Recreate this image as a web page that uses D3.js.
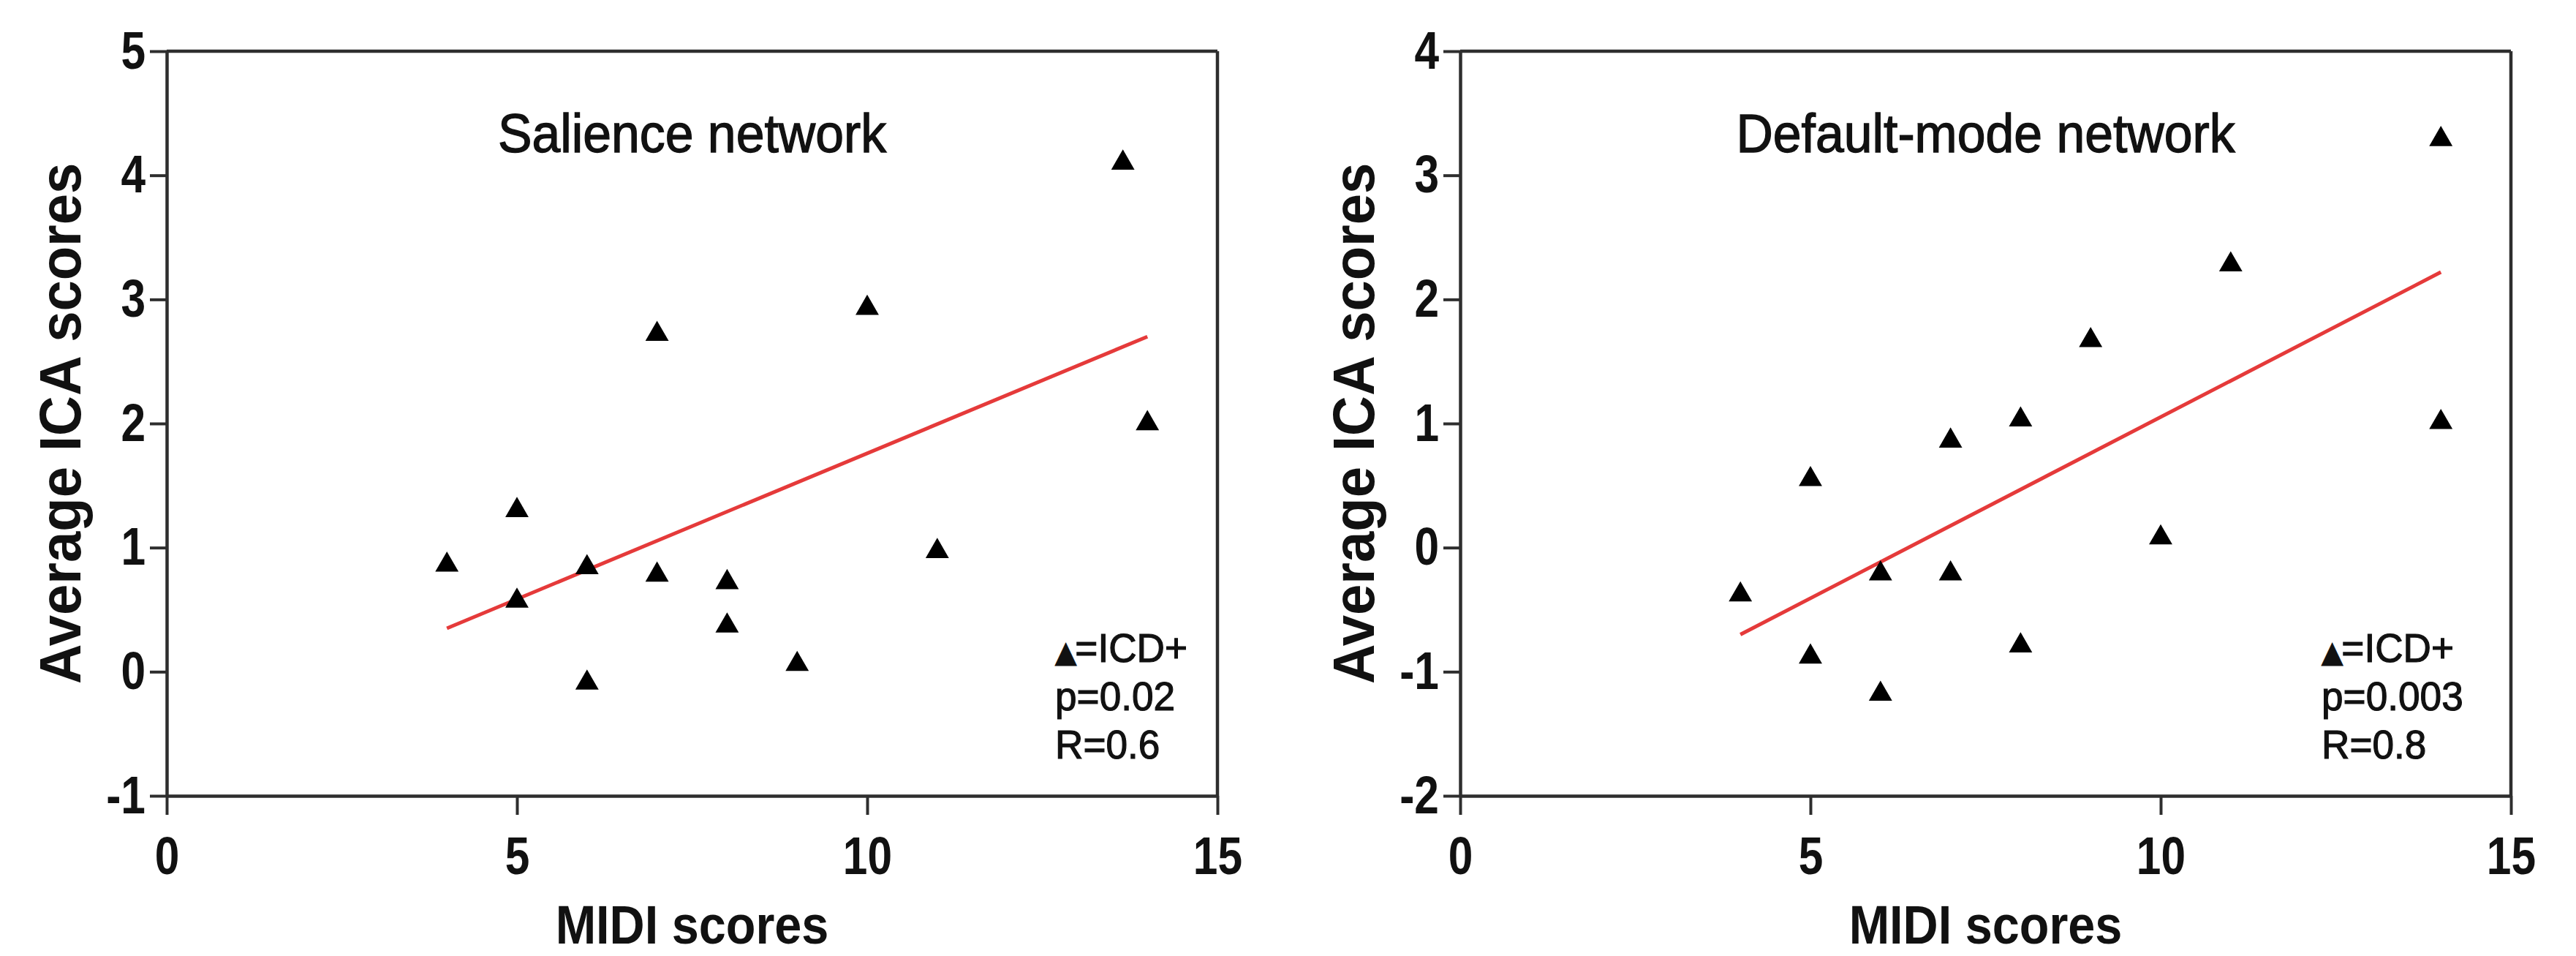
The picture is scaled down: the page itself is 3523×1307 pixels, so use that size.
<!DOCTYPE html>
<html>
<head>
<meta charset="utf-8">
<script src="https://cdn.jsdelivr.net/npm/d3@7"></script>
<style>
body { margin: 0; background: #fff; }
svg text { font-family: "Liberation Sans", Arial, Helvetica, sans-serif; fill: #111; }
</style>
</head>
<body>
<svg id="chart"></svg>
<script>
var W = 3523, H = 1307;

// values
var xTicks = [0, 5, 10, 15];
var yTicksSal = [-1, 0, 1, 2, 3, 4, 5];
var yTicksDmn = [-2, -1, 0, 1, 2, 3, 4];

var midiSal = [4, 5, 5, 6, 6, 7, 7, 8, 8, 9, 10, 11, 13.65, 14];
var icaSal = [0.86, 1.30, 0.57, 0.84, -0.09, 2.72, 0.78, 0.72, 0.37, 0.06, 2.93, 0.97, 4.10, 2.00];
var fitMidiSal = [4, 14];
var fitIcaSal = [0.35, 2.70];

var midiDmn = [4, 5, 5, 6, 6, 7, 7, 8, 8, 9, 10, 11, 14, 14];
var icaDmn = [-0.38, 0.55, -0.88, -0.21, -1.18, 0.86, -0.21, 1.03, -0.79, 1.67, 0.08, 2.28, 3.29, 1.01];
var fitMidiDmn = [4, 14];
var fitIcaDmn = [-0.70, 2.22];

var titles = ["Salience network", "Default-mode network"];
var legendMark = "\u25B2";
var legendLines = [["=ICD+", "p=0.02", "R=0.6"], ["=ICD+", "p=0.003", "R=0.8"]];

var xLabel = "MIDI scores";
var yLabel = "Average ICA scores";

var svg = d3.select('#chart')
	.attr('width', W)
	.attr('height', H);
svg.append('rect')
	.attr('width', W)
	.attr('height', H)
	.attr('fill', '#fff');

var SX = 0.84; // the figure's type is narrow
var plotW = 1437, plotTop = 70, plotBottom = 1088;

function label(g, x, y, str, size, weight, sx, anchor) {
	return g.append('text')
		.attr('transform', 'translate(' + x + ',' + y + ') scale(' + sx + ',1)')
		.attr('text-anchor', anchor)
		.attr('font-size', size)
		.attr('font-weight', weight)
		.text(str);
}

function narrowTicks(axisG) {
	axisG.selectAll('.tick text').each(function() {
		var t = d3.select(this);
		var xx = +t.attr('x') || 0;
		t.attr('x', xx / SX).attr('transform', 'scale(' + SX + ',1)');
	});
}

function drawPanel(i, left, yTicks, midi, ica, fitX, fitY, legendOff) {
	var g = svg.append('g');
	var x = d3.scaleLinear().domain([0, 15]).range([left, left + plotW]);
	var y = d3.scaleLinear().domain([yTicks[0], yTicks[yTicks.length - 1]]).range([plotBottom, plotTop]);

	// frame top and right
	g.append('line')
		.attr('x1', x(0)).attr('x2', x(15))
		.attr('y1', y.range()[1]).attr('y2', y.range()[1])
		.attr('stroke', '#2e2e2e').attr('stroke-width', 4.5);
	g.append('line')
		.attr('x1', x(15)).attr('x2', x(15))
		.attr('y1', y.range()[1]).attr('y2', y.range()[0])
		.attr('stroke', '#2e2e2e').attr('stroke-width', 4.5);

	var ax = g.append('g')
		.attr('transform', 'translate(0,' + y.range()[0] + ')')
		.call(d3.axisBottom(x).tickValues(xTicks).tickSize(26).tickSizeOuter(0).tickPadding(30)
			.tickFormat(function(d) { return String(d); }));
	var ay = g.append('g')
		.attr('transform', 'translate(' + x(0) + ',0)')
		.call(d3.axisLeft(y).tickValues(yTicks).tickSize(23).tickSizeOuter(0).tickPadding(6)
			.tickFormat(function(d) { return String(d); }));

	[ax, ay].forEach(function(a) {
		a.select('.domain').attr('stroke', '#2e2e2e').attr('stroke-width', 4.5);
		a.selectAll('.tick line').attr('stroke', '#2e2e2e').attr('stroke-width', 4);
		a.selectAll('.tick text')
			.attr('font-size', 72)
			.attr('font-weight', 'bold')
			.attr('fill', '#111')
			.style('font-family', '"Liberation Sans", Arial, sans-serif');
		narrowTicks(a);
	});

	// regression line
	var fit = fitX.map(function(d, k) { return [d, fitY[k]]; });
	g.append('path')
		.datum(fit)
		.attr('d', d3.line().x(function(d) { return x(d[0]); }).y(function(d) { return y(d[1]); }))
		.attr('fill', 'none')
		.attr('stroke', '#e53a3a')
		.attr('stroke-width', 5);

	// points
	var pts = midi.map(function(d, k) { return [d, ica[k]]; });
	g.selectAll('.pt')
		.data(pts)
		.enter().append('path')
		.attr('class', 'pt')
		.attr('transform', function(d) { return 'translate(' + x(d[0]) + ',' + y(d[1]) + ')'; })
		.attr('d', d3.symbol().type(d3.symbolTriangle).size(440))
		.attr('fill', '#000');

	// texts
	var cx = (x(0) + x(15)) / 2;
	label(g, cx, 208, titles[i], 75, 'normal', 0.93, 'middle')
		.attr('stroke', '#111').attr('stroke-width', 1.4);
	label(g, cx, 1290, xLabel, 74, 'bold', 0.9, 'middle');
	g.append('text')
		.attr('transform', 'translate(' + (left - 118) + ',' + ((plotTop + plotBottom) / 2) + ') rotate(-90) scale(0.95,1)')
		.attr('text-anchor', 'middle')
		.attr('font-size', 80)
		.attr('font-weight', 'bold')
		.text(yLabel);

	legendLines[i].forEach(function(s, k) {
		var t = g.append('text')
			.attr('transform', 'translate(' + (x(15) - legendOff) + ',' + (905 + k * 66) + ') scale(0.95,1)')
			.attr('font-size', 56)
			.attr('stroke', '#111')
			.attr('stroke-width', 1.2);
		if (k === 0) {
			t.append('tspan')
				.attr('font-size', 40)
				.attr('font-family', '"DejaVu Sans", sans-serif')
				.text(legendMark);
			t.append('tspan').attr('dx', -2).text(s);
		} else {
			t.text(s);
		}
	});
}

drawPanel(0, 228, yTicksSal, midiSal, icaSal, fitMidiSal, fitIcaSal, 222);
drawPanel(1, 1997, yTicksDmn, midiDmn, icaDmn, fitMidiDmn, fitIcaDmn, 259);
</script>
</body>
</html>
